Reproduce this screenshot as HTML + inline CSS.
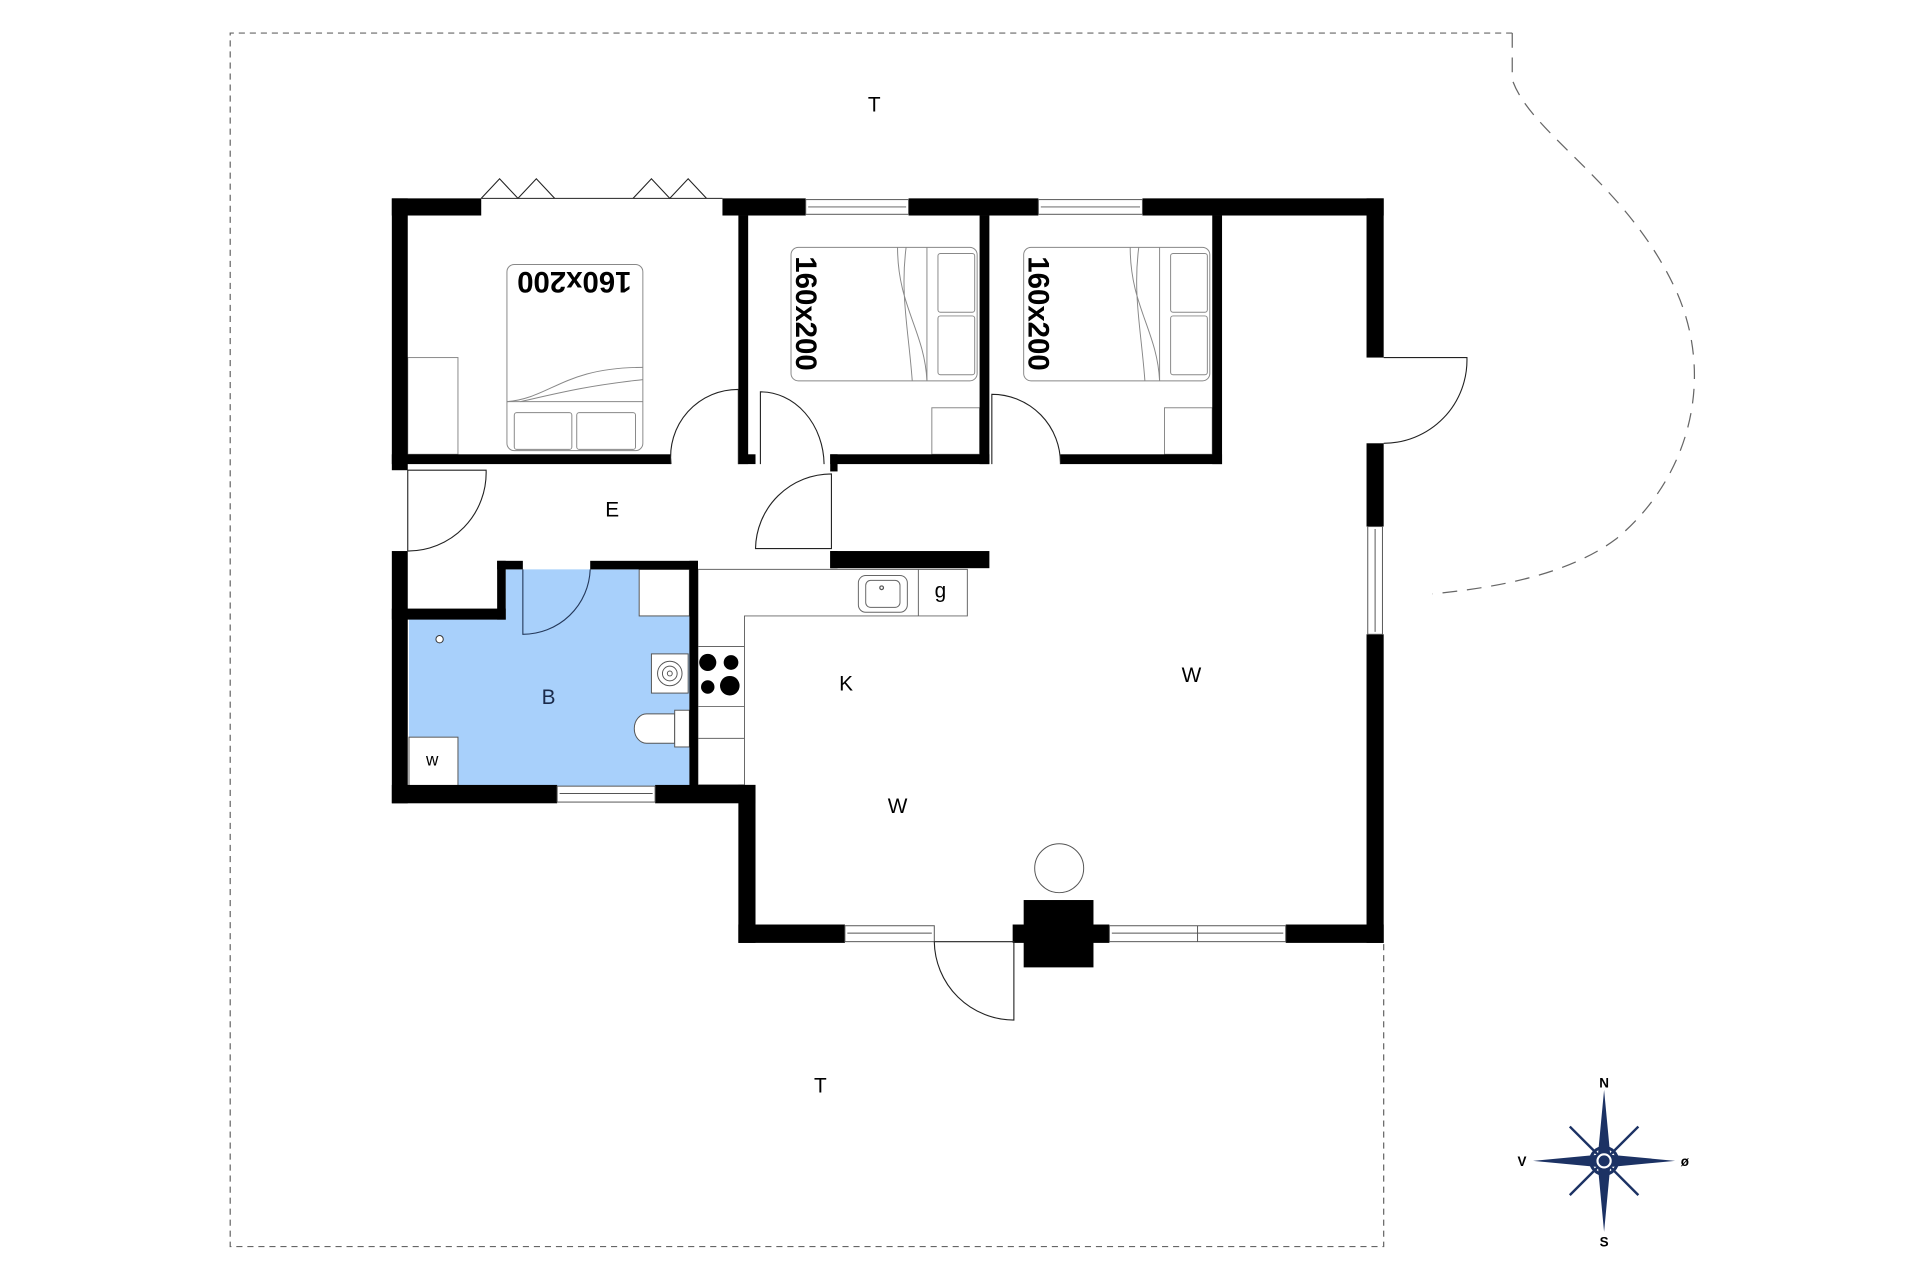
<!DOCTYPE html>
<html><head><meta charset="utf-8"><style>html,body{margin:0;padding:0;background:#fff}svg{display:block}</style></head>
<body>
<svg width="1920" height="1280" viewBox="0 0 1568 1045.3" preserveAspectRatio="none" xmlns="http://www.w3.org/2000/svg" font-family="Liberation Sans, sans-serif">
<rect width="1568" height="1046" fill="#fff"/>
<!-- dashed boundary -->
<g fill="none" stroke="#666" stroke-width="1" stroke-dasharray="5,4">
<path d="M1235 27 L188 27 L188 1018 L1130 1018 L1130 770"/>
<path d="M1235 27 L1235 65 C1250 110 1330 150 1370 240 C1400 310 1380 390 1320 440 C1280 470 1220 480 1170 485" stroke-dasharray="12,8"/>
</g>
<!-- bath fill -->
<path d="M427 465 L563 465 L563 642 L334 642 L334 504 L413 504 L413 465 Z" fill="#a8d0fb"/>
<g fill="#fff" stroke="#555" stroke-width="0.8">
<rect x="522" y="465" width="41" height="38"/>
<rect x="334" y="602" width="40" height="40"/>
<rect x="532" y="534" width="30" height="32"/>
<path d="M551 583 L528 583 A10 12 0 0 0 528 607 L551 607 Z"/>
<rect x="551" y="580" width="12" height="30"/>
</g>
<circle cx="547" cy="550" r="10" fill="none" stroke="#555" stroke-width="0.8"/>
<circle cx="547" cy="550" r="6" fill="none" stroke="#555" stroke-width="0.8"/>
<circle cx="547" cy="550" r="2" fill="none" stroke="#555" stroke-width="0.8"/>
<circle cx="359" cy="522" r="3" fill="#fff" stroke="#333" stroke-width="0.8"/>
<!-- kitchen counters -->
<g fill="#fff" stroke="#666" stroke-width="0.8">
<path d="M570 465 L790 465 L790 503 L608 503 L608 641 L570 641 Z"/>
<line x1="750" y1="465" x2="750" y2="503"/>
<line x1="570" y1="528" x2="608" y2="528"/>
<line x1="570" y1="577" x2="608" y2="577"/>
<line x1="570" y1="603" x2="608" y2="603"/>
<rect x="701" y="470" width="40" height="30" rx="6"/>
<rect x="707" y="474" width="28" height="22" rx="4"/>
</g>
<circle cx="720" cy="480" r="1.5" fill="none" stroke="#555"/>
<g fill="#000"><circle cx="578" cy="541" r="7"/><circle cx="597" cy="541" r="6"/><circle cx="578" cy="561" r="5.5"/><circle cx="596" cy="560" r="8"/></g>
<!-- beds -->
<g fill="#fff" stroke="#888" stroke-width="0.8">
<rect x="414" y="216" width="111" height="152" rx="6"/>
<rect x="420" y="337" width="47" height="30" rx="2"/><rect x="471" y="337" width="48" height="30" rx="2"/>
<line x1="414" y1="328" x2="525" y2="328"/>
<path d="M414 328 C450 325 460 300 525 300 M425 328 C460 320 480 315 525 310" fill="none"/>
<rect x="646" y="202" width="152" height="109" rx="6"/>
<rect x="766" y="207" width="30" height="48" rx="2"/><rect x="766" y="258" width="30" height="48" rx="2"/>
<line x1="757" y1="202" x2="757" y2="311"/>
<path d="M757 311 C755 270 733 250 733 202 M745 311 C742 270 735 240 740 202" fill="none"/>
<rect x="836" y="202" width="152" height="109" rx="6"/>
<rect x="956" y="207" width="30" height="48" rx="2"/><rect x="956" y="258" width="30" height="48" rx="2"/>
<line x1="947" y1="202" x2="947" y2="311"/>
<path d="M947 311 C945 270 923 250 923 202 M935 311 C932 270 925 240 930 202" fill="none"/>
<rect x="333" y="292" width="41" height="79"/>
<rect x="761" y="333" width="39" height="38"/>
<rect x="951" y="333" width="39" height="38"/>
</g>
<g font-weight="bold" font-size="24" fill="#000">
<text x="469" y="230" text-anchor="middle" transform="rotate(180 469 230)" dy="8">160x200</text>
<text transform="translate(650 256) rotate(90)" text-anchor="middle" dy="0">160x200</text>
<text transform="translate(840 256) rotate(90)" text-anchor="middle" dy="0">160x200</text>
</g>
<!-- walls -->
<g fill="#000">
<rect x="320" y="162" width="73" height="14"/>
<rect x="590" y="162" width="68" height="14"/><rect x="742" y="162" width="106" height="14"/><rect x="933" y="162" width="197" height="14"/>
<rect x="320" y="162" width="13" height="222"/><rect x="320" y="450" width="13" height="206"/>
<rect x="1116" y="162" width="14" height="130"/><rect x="1116" y="362" width="14" height="68"/><rect x="1116" y="518" width="14" height="252"/>
<rect x="320" y="371" width="228" height="8"/><rect x="603" y="371" width="14" height="8"/><rect x="678" y="371" width="130" height="8"/><rect x="866" y="371" width="132" height="8"/>
<rect x="603" y="176" width="8" height="203"/><rect x="800" y="176" width="8" height="203"/><rect x="990" y="176" width="8" height="203"/>
<rect x="678" y="371" width="6" height="14"/><rect x="678" y="450" width="6" height="14"/>
<rect x="678" y="450" width="130" height="14"/>
<rect x="482" y="458" width="88" height="7"/><rect x="406" y="458" width="21" height="7"/>
<rect x="406" y="458" width="7" height="48"/><rect x="320" y="497" width="93" height="9"/>
<rect x="563" y="458" width="7" height="190"/>
<rect x="320" y="641" width="135" height="15"/><rect x="535" y="641" width="82" height="15"/>
<rect x="603" y="641" width="14" height="129"/>
<rect x="603" y="755" width="87" height="15"/><rect x="827" y="755" width="79" height="15"/><rect x="1050" y="755" width="80" height="15"/>
<rect x="836" y="735" width="57" height="55"/>
</g>
<!-- windows -->
<g fill="#fff" stroke="#555" stroke-width="0.8">
<rect x="658" y="163" width="84" height="12"/><line x1="660" y1="169" x2="740" y2="169"/>
<rect x="848" y="163" width="85" height="12"/><line x1="850" y1="169" x2="931" y2="169"/>
<rect x="1117" y="430" width="12" height="88"/><line x1="1123" y1="432" x2="1123" y2="516"/>
<rect x="455" y="642" width="80" height="13"/><line x1="457" y1="648" x2="533" y2="648"/>
<rect x="690" y="756" width="73" height="13"/><line x1="692" y1="762" x2="761" y2="762"/>
<rect x="906" y="756" width="144" height="13"/><line x1="908" y1="762" x2="1048" y2="762"/><line x1="978" y1="756" x2="978" y2="769"/>
</g>
<!-- doors -->
<g fill="none" stroke="#222" stroke-width="0.9">
<line x1="393" y1="162" x2="590" y2="162"/>
<path d="M393 162 L408 146 L423 162 L438 146 L453 162 M517 162 L532 146 L547 162 L562 146 L577 162"/>
<path d="M333 450 L333 384 L397 384 A64 64 0 0 1 333 450"/>
<path d="M548 379 A55 55 0 0 1 603 318 L603 379"/>
<path d="M621 379 L621 320 A52 60 0 0 1 673 379"/>
<path d="M810 379 L810 322 A56 56 0 0 1 866 379"/>
<path d="M617 448 A62 62 0 0 1 679 387 L679 448 Z" stroke-width="0.9"/>
<path d="M1130 292 L1198 292 A68 68 0 0 1 1130 362"/>
<path d="M427 465 L427 518 A55 55 0 0 0 482 465" stroke="#24385a"/>
<path d="M763 769 L828 769 L828 833 A65 65 0 0 1 763 769"/>
</g>
<circle cx="865" cy="709" r="20" fill="#fff" stroke="#555" stroke-width="0.8"/>
<!-- labels -->
<g font-size="17" fill="#000" text-anchor="middle">
<text x="714" y="91">T</text><text x="500" y="422">E</text><text x="448" y="575" fill="#1a2a4a">B</text>
<text x="691" y="564">K</text><text x="973" y="557">W</text><text x="733" y="664">W</text><text x="670" y="892">T</text>
<text x="353" y="625" font-size="14">w</text><text x="768" y="488">g</text>
</g>
<!-- compass -->
<g transform="translate(1310 948)">
<g stroke="#1c3264" stroke-width="2.5" fill="none">
<circle r="11"/><line x1="-28" y1="-28" x2="28" y2="28" stroke-width="2"/><line x1="28" y1="-28" x2="-28" y2="28" stroke-width="2"/>
</g>
<path d="M0 -58 L5 -5 L-5 -5 Z M0 58 L-5 5 L5 5 Z M-58 0 L-5 -5 L-5 5 Z M58 0 L5 5 L5 -5 Z" fill="#1c3264"/>
<circle r="7" fill="#fff" stroke="#1c3264" stroke-width="1.5"/><circle r="4.5" fill="#1c3264"/>
<g font-size="11" font-weight="bold" fill="#000" text-anchor="middle">
<text y="-60">N</text><text y="70">S</text><text x="-67" y="4">V</text><text x="66" y="4">ø</text></g>
</g>
</svg>
</body></html>
